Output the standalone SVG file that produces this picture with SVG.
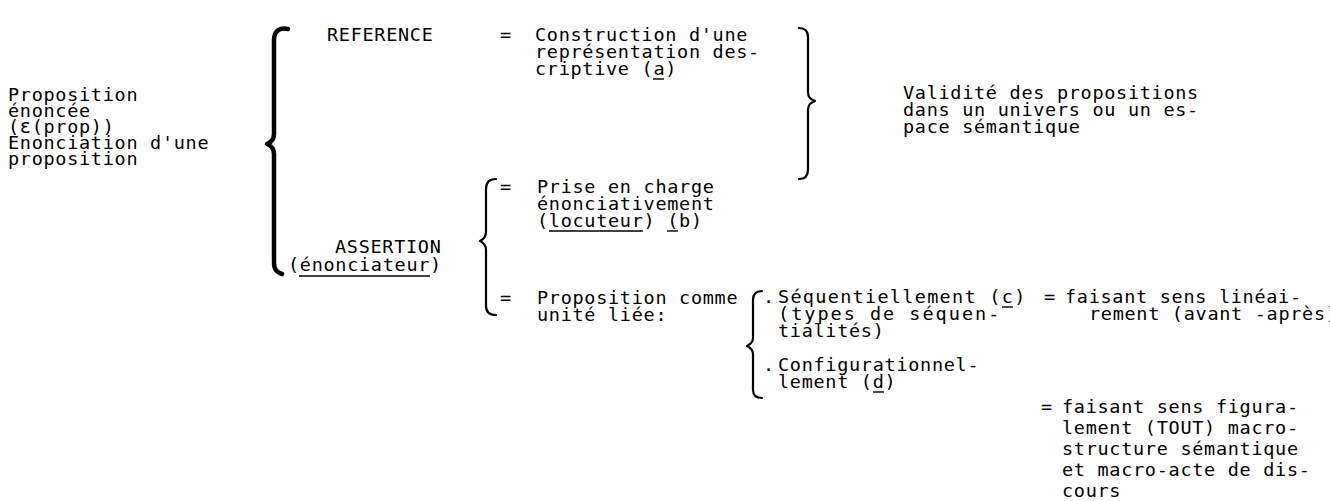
<svg xmlns="http://www.w3.org/2000/svg" width="1330" height="501" viewBox="0 0 1330 501">
  <style>
    text { font-family: "DejaVu Sans Mono", "Liberation Mono", monospace; font-size: 18.5px; letter-spacing: 0.7px; fill: #000; }
    .brace { fill: none; stroke: #000; stroke-linecap: round; stroke-linejoin: round; }
    .heavy { stroke-width: 4.5; }
    .light { stroke-width: 2.2; }
    .ul { stroke: #000; stroke-width: 1.4; }
  </style>
  <rect width="1330" height="501" fill="#fff"/>

  <!-- braces -->
  <g id="connectors">
    <path class="brace heavy" d="M 288 29 C 280 27, 274 31, 274 40 L 274 134 C 274 139, 272 142, 267 144 C 272 146, 274 149, 274 154 L 274 262 C 274 269, 276 272, 282 274"/>
    <path class="brace light" d="M 799 28 C 805 28, 808 31, 808 37 L 808 92 C 808 97, 810 99, 815 101 C 810 103, 808 105, 808 110 L 808 170 C 808 176, 805 179, 799 179"/>
    <path class="brace light" d="M 496 179 C 489 179, 486 182, 486 189 L 486 232 C 486 237, 484 239, 480 241 C 484 243, 486 245, 486 250 L 486 306 C 486 312, 489 315, 496 315"/>
    <path class="brace light" d="M 762 291 C 756 291, 753 294, 753 300 L 753 338 C 753 342, 751 344, 747 346 C 751 348, 753 350, 753 354 L 753 390 C 753 395, 756 398, 762 398"/>
  </g>

  <g id="proposition">
    <text x="8" y="101">Proposition</text>
    <text x="8" y="117">énoncée</text>
    <text x="8" y="133">(ε(prop))</text>
    <text x="8" y="149">Enonciation d'une</text>
    <text x="8" y="165">proposition</text>
  </g>

  <g id="reference">
    <text x="327" y="41">REFERENCE</text>
  </g>

  <g id="construction">
    <text x="500" y="41">=</text>
    <text x="535" y="41">Construction d'une</text>
    <text x="535" y="58">représentation des-</text>
    <text x="535" y="75">criptive (a)</text>
    <line class="ul" x1="653" y1="79" x2="664" y2="79"/>
  </g>

  <g id="validite">
    <text x="903" y="99">Validité des propositions</text>
    <text x="903" y="116">dans un univers ou un es-</text>
    <text x="903" y="133">pace sémantique</text>
  </g>

  <g id="assertion">
    <text x="335" y="253">ASSERTION</text>
    <text x="288" y="271">(énonciateur)</text>
    <line class="ul" x1="299" y1="276" x2="430" y2="276"/>
  </g>

  <g id="prise-en-charge">
    <text x="500" y="193">=</text>
    <text x="537" y="193">Prise en charge</text>
    <text x="537" y="210">énonciativement</text>
    <text x="537" y="227">(locuteur) (b)</text>
    <line class="ul" x1="549" y1="231" x2="643" y2="231"/>
    <line class="ul" x1="667" y1="231" x2="678" y2="231"/>
  </g>

  <g id="unite-liee">
    <text x="500" y="304">=</text>
    <text x="537" y="304">Proposition comme</text>
    <text x="537" y="321">unité liée:</text>
  </g>

  <g id="sequentiellement">
    <text x="763" y="303">.</text>
    <text x="778" y="303" textLength="248" lengthAdjust="spacing">Séquentiellement (c)</text>
    <text x="778" y="320" textLength="222" lengthAdjust="spacing">(types de séquen-</text>
    <text x="778" y="337">tialités)</text>
    <line class="ul" x1="1002" y1="307" x2="1013" y2="307"/>
  </g>

  <g id="lineairement">
    <text x="1044" y="303">=</text>
    <text x="1065" y="303">faisant sens linéai-</text>
    <text x="1089" y="320">rement (avant -après)</text>
  </g>

  <g id="configurationnellement">
    <text x="763" y="371">.</text>
    <text x="778" y="371">Configurationnel-</text>
    <text x="778" y="388">lement (d)</text>
    <line class="ul" x1="873" y1="392" x2="884" y2="392"/>
  </g>

  <g id="figuralement">
    <text x="1041" y="413">=</text>
    <text x="1062" y="413">faisant sens figura-</text>
    <text x="1062" y="434">lement (TOUT) macro-</text>
    <text x="1062" y="455">structure sémantique</text>
    <text x="1062" y="476">et macro-acte de dis-</text>
    <text x="1062" y="497">cours</text>
  </g>
</svg>
